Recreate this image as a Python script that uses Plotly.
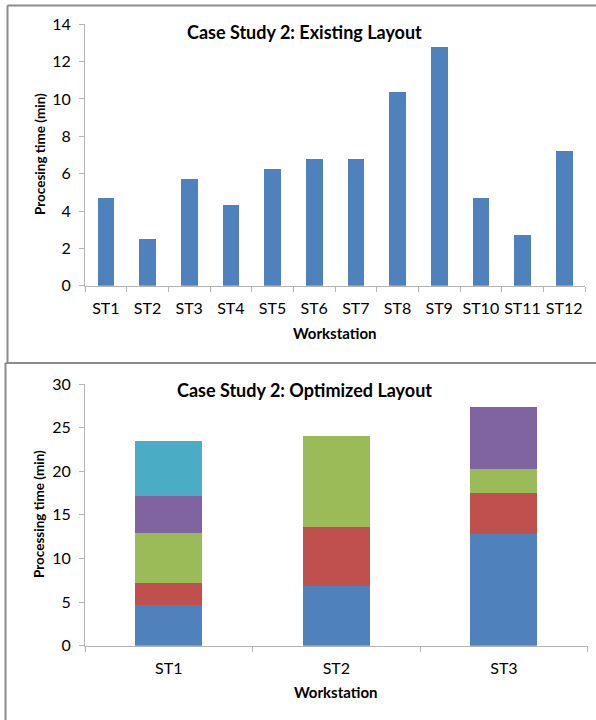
import plotly.graph_objects as go

# Top chart data
stations_existing = ["ST1", "ST2", "ST3", "ST4", "ST5", "ST6", "ST7", "ST8", "ST9", "ST10", "ST11", "ST12"]
time_existing = [4.7, 2.5, 5.7, 4.3, 6.25, 6.8, 6.8, 10.4, 12.8, 4.7, 2.7, 7.2]

# Bottom chart data (stacked segments)
stations_opt = ["ST1", "ST2", "ST3"]
seg1 = [4.7, 6.8, 12.8]
seg2 = [2.5, 6.8, 4.7]
seg3 = [5.7, 10.4, 2.7]
seg4 = [4.3, 0, 7.2]
seg5 = [6.25, 0, 0]
seg_colors = ["#4F81BD", "#C0504D", "#9BBB59", "#8064A2", "#4BACC6"]

W, H = 596, 720
FONT = "Lato"
AX = "#B4B4B4"

def px(x):
    return x / W

def py(y):
    return 1 - y / H

fig = go.Figure()
fig.add_trace(go.Bar(x=stations_existing, y=time_existing, marker=dict(color="#4F81BD", line=dict(width=0)),
                     xaxis="x", yaxis="y", showlegend=False, hoverinfo="skip"))
for vals, c in zip([seg1, seg2, seg3, seg4, seg5], seg_colors):
    fig.add_trace(go.Bar(x=stations_opt, y=vals, marker=dict(color=c, line=dict(width=0)),
                         xaxis="x2", yaxis="y2", showlegend=False, hoverinfo="skip"))

axis_common = dict(showline=True, linecolor=AX, linewidth=1, ticks="outside", tickcolor=AX,
                   ticklen=5, showgrid=False, zeroline=False, tickangle=0, automargin=False,
                   tickfont=dict(family=FONT, size=16, color="#000000"))

fig.update_layout(
    template="none",
    width=W, height=H, margin=dict(l=0, r=0, t=0, b=0, pad=0, autoexpand=False),
    paper_bgcolor="white", plot_bgcolor="white",
    barmode="stack", bargap=0.6,
    xaxis=dict(domain=[px(85), px(585)], anchor="y", tickson="boundaries", ticklabelstandoff=8, **axis_common),
    yaxis=dict(domain=[py(285.7), py(24.3)], anchor="x", range=[0, 14], dtick=2, ticklabelstandoff=5, **axis_common),
    xaxis2=dict(domain=[px(85), px(587.7)], anchor="y2", tickson="boundaries", ticklabelstandoff=8, **axis_common),
    yaxis2=dict(domain=[py(645.7), py(384)], anchor="x2", range=[0, 30], dtick=5, ticklabelstandoff=5, **axis_common),
)

tfont = dict(family=FONT, size=18, color="#000000")
afont = dict(family=FONT, size=15, color="#000000")
yfont = dict(family=FONT, size=13.5, color="#000000")
annots = [
    dict(text="<b>Case Study 2: Existing Layout</b>", x=px(304), y=py(32), font=tfont),
    dict(text="<b>Case Study 2: Optimized Layout</b>", x=px(304.5), y=py(390), font=tfont),
    dict(text="<b>Workstation</b>", x=px(335), y=py(333), font=afont),
    dict(text="<b>Workstation</b>", x=px(336), y=py(692), font=afont),
    dict(text="<b>Procesing time (min)</b>", x=px(40), y=py(154), font=yfont, textangle=-90),
    dict(text="<b>Processing time (min)</b>", x=px(39), y=py(514), font=yfont, textangle=-90),
]
for a in annots:
    fig.add_annotation(xref="paper", yref="paper", xanchor="center", yanchor="middle",
                       showarrow=False, **a)

BORDER = "#8C8C8C"
lines = [
    (7.5, 5.5, 596, 5.5),
    (7.5, 5.5, 7.5, 363),
    (5.5, 363, 596, 363),
    (5.5, 363, 5.5, 720),
]
for x0, y0, x1, y1 in lines:
    fig.add_shape(type="line", xref="paper", yref="paper", x0=px(x0), y0=py(y0), x1=px(x1), y1=py(y1),
                  line=dict(color=BORDER, width=2))

page_fix = (
    "var d=document.documentElement,b=document.body;"
    "d.style.margin='0';d.style.padding='0';d.style.overflow='hidden';"
    "b.style.margin='0';b.style.padding='0';b.style.overflow='hidden';"
)
fig.write_html("out.html", config={"displayModeBar": False}, post_script=page_fix)
